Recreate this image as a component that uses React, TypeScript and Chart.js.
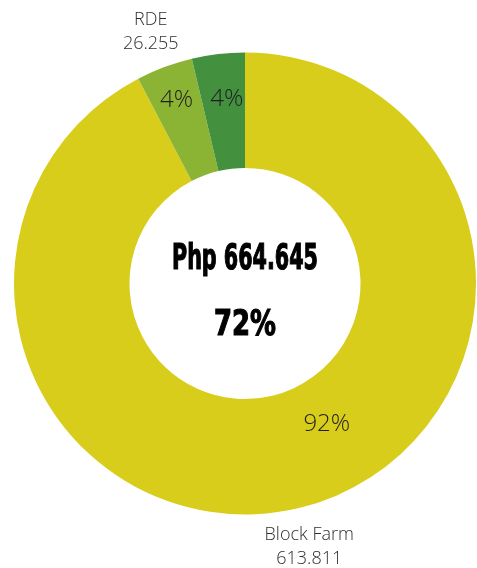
import React, { useEffect, useRef } from "react";
import { Chart, registerables } from "chart.js";

Chart.register(...registerables);

const categories = ["Block Farm", "RDE", "Other"];
const values = [613.811, 26.255, 24.579];
const colors = ["#D9CD1B", "#8CB434", "#43903F"];
const showOuterLabel = [true, true, false];
const centerTitle = "Php 664.645";
const centerSubtitle = "72%";

// label placement (fraction along arc, fraction of outer radius)
const pctAngleFrac = [0.45, 0.5, 0.58];
const pctRadiusFrac = [0.7, 0.85, 0.805];
const outerAngleFrac = [0.5, 0.5, 0.5];
const outerRadius = 270;

const labelFont = "'Open Sans', sans-serif";
const centerFont = "'Liberation Sans Narrow', 'DejaVu Sans Condensed', 'Arial Narrow', sans-serif";

const labelsPlugin = {
  id: "customLabels",
  afterDatasetsDraw(chart: any) {
    const ctx = chart.ctx;
    const meta = chart.getDatasetMeta(0);
    const total = values.reduce((a, b) => a + b, 0);
    ctx.save();
    meta.data.forEach((arc: any, i: number) => {
      const { x, y, startAngle, endAngle, outerRadius: oR } = arc.getProps(
        ["x", "y", "startAngle", "endAngle", "outerRadius"],
        true
      );
      const pct = Math.round((values[i] / total) * 100) + "%";
      const a = startAngle + (endAngle - startAngle) * pctAngleFrac[i];
      const r = oR * pctRadiusFrac[i];
      ctx.fillStyle = "#1f1f1f";
      ctx.font = `300 24px ${labelFont}`;
      ctx.textAlign = "center";
      ctx.textBaseline = "middle";
      ctx.fillText(pct, x + Math.cos(a) * r, y + Math.sin(a) * r + 1);

      if (showOuterLabel[i]) {
        const a2 = startAngle + (endAngle - startAngle) * outerAngleFrac[i];
        const ox = x + Math.cos(a2) * outerRadius;
        const oy = y + Math.sin(a2) * outerRadius;
        ctx.fillStyle = "#2e2e2e";
        ctx.font = `300 18px ${labelFont}`;
        ctx.fillText(categories[i], ox, oy - 11);
        ctx.fillText(values[i].toFixed(3), ox, oy + 13);
      }
    });

    // center text
    const cx = meta.data[0].x;
    const cy = meta.data[0].y;
    ctx.fillStyle = "#000";
    ctx.strokeStyle = "#000";
    ctx.lineWidth = 1.2;
    ctx.textAlign = "center";
    ctx.textBaseline = "alphabetic";
    ctx.font = `bold 36px ${centerFont}`;
    ctx.fillText(centerTitle, cx, cy - 15, 146);
    ctx.strokeText(centerTitle, cx, cy - 15, 146);
    ctx.fillText(centerSubtitle, cx, cy + 51, 62);
    ctx.strokeText(centerSubtitle, cx, cy + 51, 62);
    ctx.restore();
  },
};

export default function App() {
  const ref = useRef<HTMLCanvasElement>(null);
  useEffect(() => {
    document.body.style.margin = "0";
    const chart = new Chart(ref.current!, {
      type: "doughnut",
      data: {
        labels: categories,
        datasets: [
          {
            data: values,
            backgroundColor: colors,
            borderWidth: 0,
          },
        ],
      },
      options: {
        animation: false,
        responsive: false,
        maintainAspectRatio: false,
        cutout: "50%",
        layout: { padding: { left: 14, right: 1, top: 52, bottom: 53 } },
        plugins: {
          legend: { display: false },
          tooltip: { enabled: false },
        },
      },
      plugins: [labelsPlugin],
    });
    return () => chart.destroy();
  }, []);
  return (
    <div style={{ width: 477, height: 568, background: "#fff" }}>
      <canvas ref={ref} width={477} height={568} />
    </div>
  );
}
